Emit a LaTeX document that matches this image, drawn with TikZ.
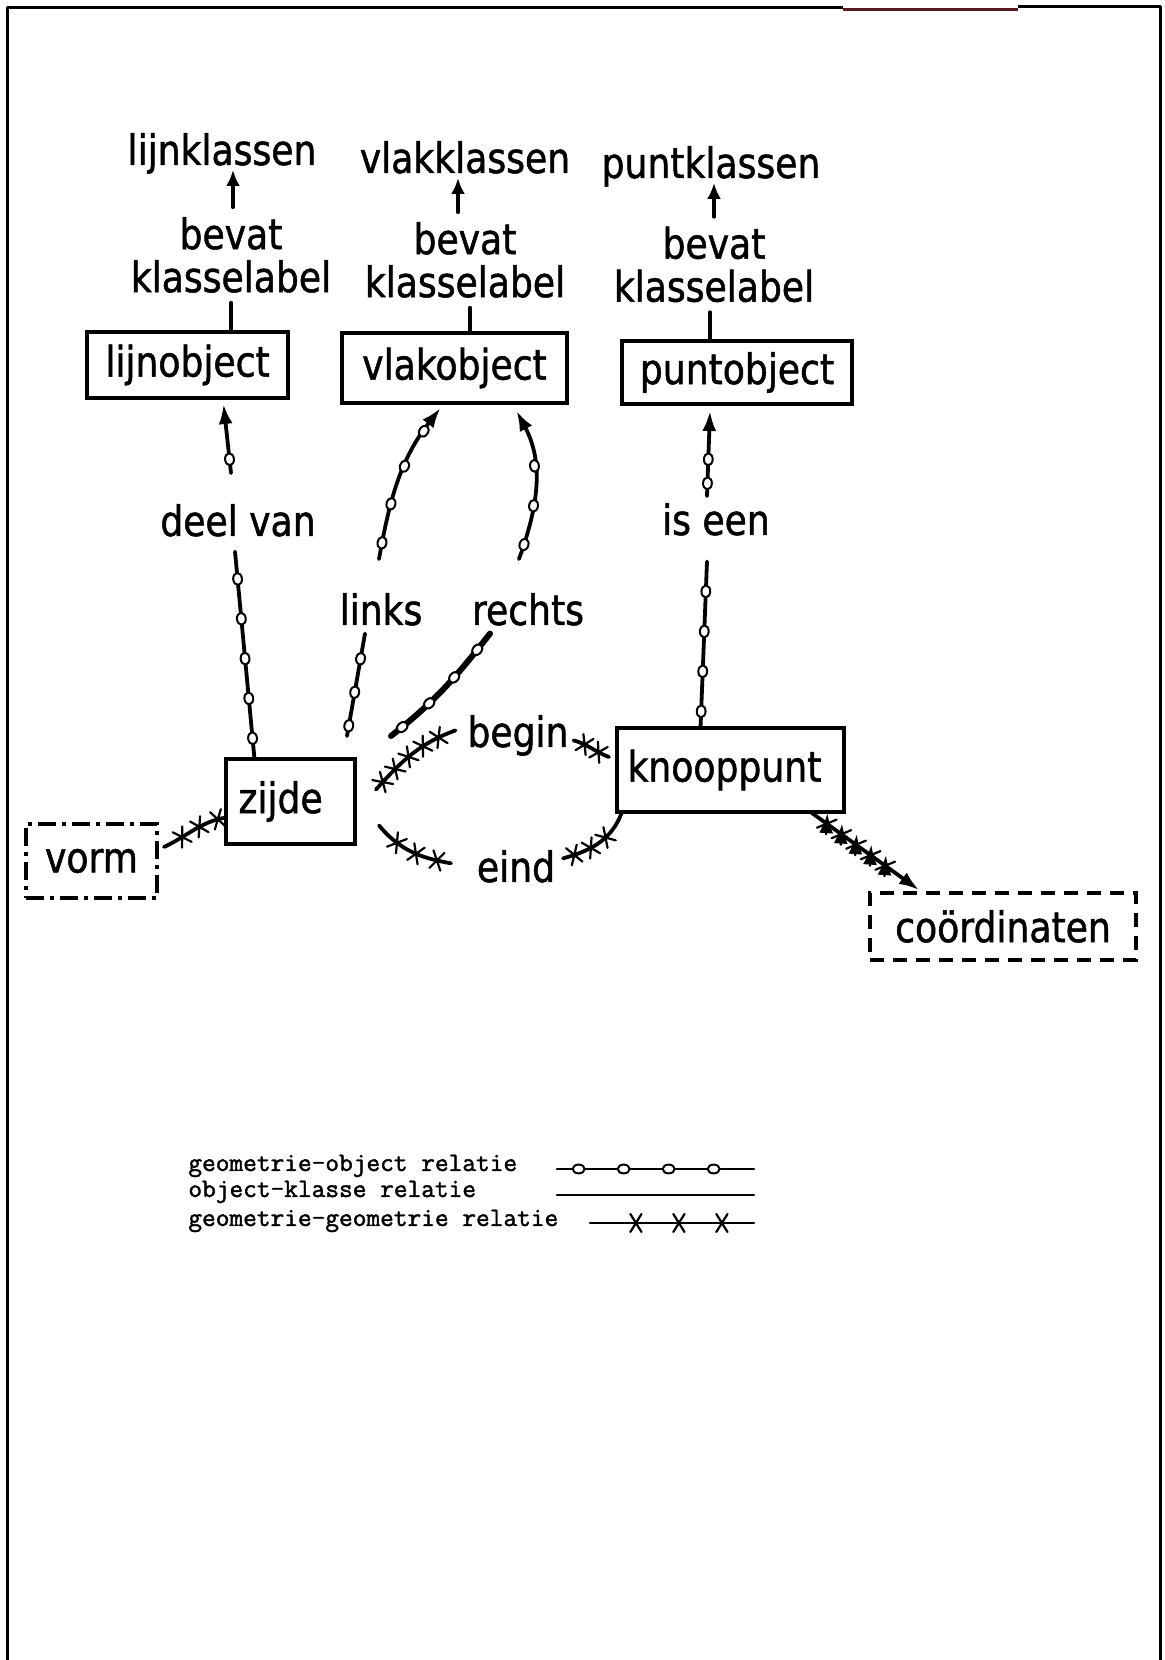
\documentclass[tikz,border=0pt]{standalone}
\usepackage{fontspec}
\usetikzlibrary{arrows.meta,decorations.markings}
\newfontfamily\plotfont[FakeStretch=0.86,FakeBold=1.2]{DejaVu Sans}
\newfontfamily\legendfont[FakeBold=1.6]{Latin Modern Mono}
\newcommand{\geoomark}{\draw[draw=black,fill=white,line width=1pt] (0,0) ellipse (3pt and 2.2pt);}
\newcommand{\geoxmark}{\draw[draw=black,line width=1.1pt] (-2.8pt,-4.5pt) -- (2.8pt,4.5pt) (2.8pt,-4.5pt) -- (-2.8pt,4.5pt);}
\tikzset{
  lbl/.style={text=drawColor,anchor=base,inner sep=0pt,outer sep=0pt,font=\plotfont\fontsize{21pt}{21.5pt}\selectfont},
  klassen/.style={lbl,text depth=0pt,outer sep=2.5pt},
  objbox/.style={draw=drawColor,line width=2pt,inner sep=0pt,outer sep=0pt,font=\plotfont\fontsize{21pt}{21.5pt}\selectfont},
  vormbox/.style={objbox,line width=1.7pt,dash pattern=on 9pt off 3pt on 2pt off 3pt},
  coordbox/.style={objbox,line width=1.7pt,dash pattern=on 7pt off 4.5pt},
  klasse/.style={draw=drawColor,line width=1.9pt,line join=round,line cap=round},
  klassetip/.style={-{Latex[length=8pt,width=7pt]}},
  geotip/.style={-{Latex[length=10pt,width=7pt]}},
  geoobj/.style={klasse,postaction={decorate,decoration={markings,mark=between positions #1 with {\geoomark}}}},
  geoobj/.default={0.1 and 0.95 step 20pt},
  geogeo/.style={klasse,postaction={decorate,decoration={markings,mark=between positions #1 with {\geoxmark}}}},
  geogeo/.default={0.1 and 0.95 step 9pt},
  legtext/.style={text=drawColor,anchor=base west,inner sep=0pt,font=\legendfont\fontsize{13.3pt}{14pt}\selectfont}
}
\begin{document}
\begin{tikzpicture}[x=0.5pt,y=0.5pt]
\definecolor{fillColor}{RGB}{255,255,255}
\definecolor{drawColor}{RGB}{0,0,0}
\definecolor{scanColor}{RGB}{90,25,35}
\path[use as bounding box,fill=fillColor] (0,0) rectangle (1165,1660);
\begin{scope}
\path[clip] (0,0) rectangle (1165,1660);

\path[draw=drawColor,line width=1.5pt,line join=round] (7,0) -- (7,1652) -- (843,1652);

\path[draw=scanColor,line width=1.5pt] (843,1650) -- (1018,1650);

\path[draw=drawColor,line width=1.5pt,line join=round] (1018,1653) -- (1160,1653) -- (1160,0);
\end{scope}
\begin{scope}

\node[klassen] (lijnkl) at (222,1495) {lijnklassen};

\node[klassen] (vlakkl) at (465,1487) {vlakklassen};

\node[klassen] (puntkl) at (711,1482) {puntklassen};

\node[lbl,anchor=center,align=center] (bk1) at (231,1405) {bevat\\klasselabel};

\node[lbl,anchor=center,align=center] (bk2) at (465,1400) {bevat\\klasselabel};

\node[lbl,anchor=center,align=center] (bk3) at (714,1395.5) {bevat\\klasselabel};

\node[objbox,minimum width=100.5pt,minimum height=33pt] (lijn) at (187.5,1295) {lijnobject};

\node[objbox,minimum width=112.5pt,minimum height=35pt] (vlak) at (454.5,1292) {vlakobject};

\node[objbox,minimum width=115pt,minimum height=31.5pt] (punt) at (737,1287.5) {puntobject};

\node[lbl] (deel) at (238,1124) {deel van};

\node[lbl] (links) at (381,1035) {links};

\node[lbl] (rechts) at (528,1035) {rechts};

\node[lbl] (isen) at (716,1125) {is een};

\node[lbl] (begin) at (518,913) {begin};

\node[lbl] (eind) at (516,778) {eind};

\node[objbox,minimum width=64.5pt,minimum height=42.5pt,text width=52pt] (zijde) at (290.5,858.5) {zijde};

\node[objbox,minimum width=113.5pt,minimum height=42pt,text width=103pt] (knoop) at (730.5,890) {knooppunt};

\node[vormbox,minimum width=65.5pt,minimum height=37pt] (vorm) at (91.5,799) {vorm};

\node[coordbox,minimum width=133pt,minimum height=33.5pt] (coord) at (1003,733.5) {coördinaten};
\end{scope}
\begin{scope}

\path[klasse] (bk1.south |- lijn.north) -- ([yshift=-5pt]bk1.south);

\path[klasse,klassetip] ([xshift=1pt,yshift=5pt]bk1.north) -- ([xshift=1pt]bk1.north |- lijnkl.south);

\path[klasse] ([xshift=2.5pt]bk2.south |- vlak.north) -- ([xshift=2.5pt,yshift=-5pt]bk2.south);

\path[klasse,klassetip] ([xshift=-3.5pt,yshift=5pt]bk2.north) -- ([xshift=-3.5pt]bk2.north |- vlakkl.south);

\path[klasse] ([xshift=-2pt]bk3.south |- punt.north) -- ([xshift=-2pt,yshift=-5pt]bk3.south);

\path[klasse,klassetip] ([yshift=5pt]bk3.north) -- (bk3.north |- puntkl.south);

\path[geoobj] ([xshift=-18pt]zijde.north) -- ([xshift=-1.5pt,yshift=-7.5pt]deel.south);

\path[geoobj={0.2 and 0.6 step 20pt},geotip] ([xshift=-3.5pt,yshift=15.5pt]deel.north) -- ([xshift=18pt,yshift=-3pt]lijn.south);

\path[geoobj={0.1 and 0.95 step 17pt}] ([xshift=-4pt,yshift=11.5pt]zijde.north east) -- ([xshift=-8pt,yshift=-4pt]links.south);

\path[geoobj={0.1 and 0.85 step 20pt},geotip] ([xshift=-1pt,yshift=17pt]links.north) to[out=80,in=232] ([xshift=-7pt,yshift=-2.5pt]vlak.south);

\path[geoobj={0.1 and 0.95 step 18pt},line width=3pt] ([xshift=18pt,yshift=11.5pt]zijde.north east) to[out=38,in=232] ([xshift=-19pt,yshift=-4pt]rechts.south);

\path[geoobj={0.1 and 0.85 step 20pt},geotip] ([xshift=-4.5pt,yshift=17pt]rechts.north) to[out=70,in=-62] ([xshift=31pt,yshift=-4pt]vlak.south);

\path[geoobj] ([xshift=-15pt]knoop.north) -- ([xshift=-4.5pt,yshift=-13pt]isen.south);

\path[geoobj={0.15 and 0.6 step 12pt},geotip] ([xshift=-4.5pt,yshift=3.5pt]isen.north) -- ([xshift=-13.5pt,yshift=-3.5pt]punt.south);

\path[geogeo={0.3 and 0.95 step 10pt}] ([xshift=3.5pt,yshift=7pt]vorm.east) to[out=25,in=190] ([yshift=-8pt]zijde.west);

\path[geogeo] ([xshift=10.5pt,yshift=6pt]zijde.east) to[out=48,in=200] ([xshift=-6pt,yshift=2.5pt]begin.west);

\path[geogeo={0.3 and 0.95 step 8pt}] ([xshift=2.5pt,yshift=-2.5pt]begin.east) to[out=-15,in=160] ([xshift=-4pt,yshift=6.5pt]knoop.west);

\path[geogeo={0.3 and 0.95 step 11pt}] ([xshift=12pt,yshift=-12pt]zijde.east) to[out=-50,in=170] ([xshift=-13pt,yshift=1.5pt]eind.west);

\path[geogeo={0.15 and 0.8 step 9pt}] ([xshift=4pt,yshift=4pt]eind.east) to[out=15,in=-110] ([xshift=2.5pt]knoop.south west);

\path[geogeo={0.15 and 0.75 step 9pt},geotip] ([xshift=40pt]knoop.south) -- ([xshift=-42pt,yshift=1.5pt]coord.north);
\end{scope}
\begin{scope}

\node[legtext] (leg1) at (188,489) {geometrie-object relatie};

\node[legtext] (leg2) at (188,463) {object-klasse relatie};

\node[legtext] (leg3) at (188,434) {geometrie-geometrie relatie};

\coordinate (s1a) at (557,491);

\coordinate (s1b) at (754,491);

\coordinate (s2a) at (557,465);

\coordinate (s2b) at (754,465);

\coordinate (s3a) at (590,437);

\coordinate (s3b) at (754,437);

\path[geoobj={0.11 and 0.95 step 22.5pt},line width=1.1pt] (s1a) -- (s1b);

\path[klasse,line width=1.1pt] (s2a) -- (s2b);

\path[geogeo={0.28 and 0.9 step 21.5pt},line width=1.1pt] (s3a) -- (s3b);
\end{scope}
\end{tikzpicture}
\end{document}
